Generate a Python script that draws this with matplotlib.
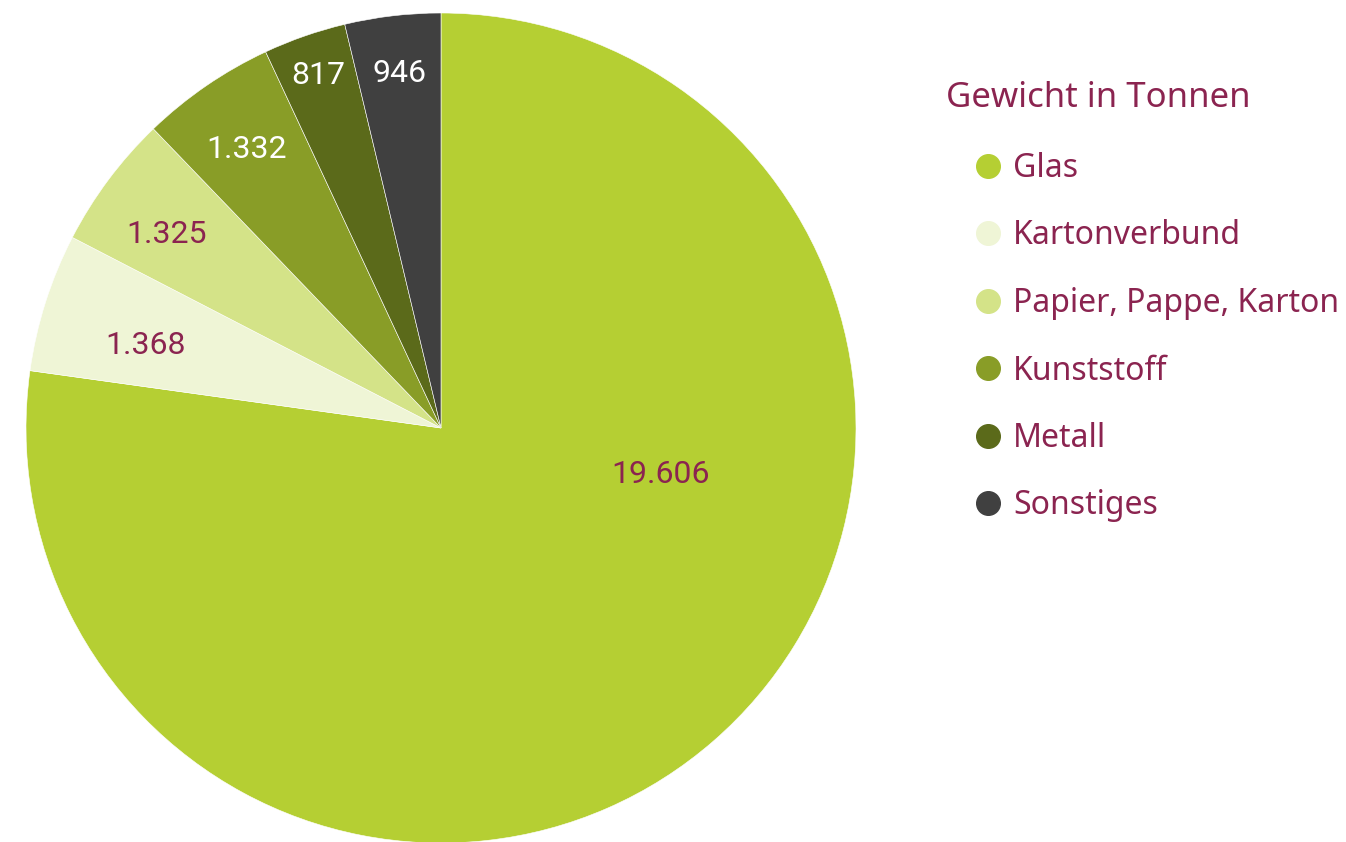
import matplotlib.pyplot as plt
import numpy as np
from matplotlib.lines import Line2D

# Data
categories = ["Glas", "Kartonverbund", "Papier, Pappe, Karton", "Kunststoff", "Metall", "Sonstiges"]
weights = [19606, 1368, 1325, 1332, 817, 946]
colors = ["#b5cf33", "#eff5d6", "#d4e388", "#899d27", "#5b6a1a", "#404040"]
label_colors = ["#8b2450", "#8b2450", "#8b2450", "white", "white", "white"]

# label placement (fraction of radius, angle shift in degrees)
label_r = [0.54, 0.74, 0.81, 0.82, 0.90, 0.86]
label_shift = [37, 2, 1.5, 0.5, 0, 0]

maroon = "#8b2450"

fig = plt.figure(figsize=(13.46, 8.42), dpi=100)
W, H = 1346, 842
ax = fig.add_axes([26 / W, -1 / H, 830 / W, 830 / H])

wedges, _ = ax.pie(weights, colors=colors, startangle=90, counterclock=False,
                   radius=1, wedgeprops=dict(edgecolor="white", linewidth=0.4))
ax.set_xlim(-1, 1)
ax.set_ylim(-1, 1)
ax.set_aspect("equal")
ax.axis("off")

for w, v, r, s, c in zip(wedges, weights, label_r, label_shift, label_colors):
    ang = np.deg2rad((w.theta1 + w.theta2) / 2 + s)
    txt = f"{v:,}".replace(",", ".")
    ax.text(r * np.cos(ang), r * np.sin(ang), txt, ha="center", va="center",
            fontsize=23, color=c, family="Roboto")

# Legend
fig.text(946 / W, 1 - 98 / H, "Gewicht in Tonnen", fontsize=25, color=maroon,
         family="Noto Sans", ha="left", va="center")

handles = [Line2D([], [], marker="o", ls="", color=c, markersize=17) for c in colors]
leg = fig.legend(handles, categories, loc="upper left",
                 bbox_to_anchor=(975 / W, 1 - 152 / H), frameon=False,
                 borderpad=0, borderaxespad=0, handlelength=0.8, handletextpad=0.4,
                 labelspacing=1.08, prop={"family": "Noto Sans", "size": 23})
for t in leg.get_texts():
    t.set_color(maroon)

fig.savefig("out.png", dpi=100)
